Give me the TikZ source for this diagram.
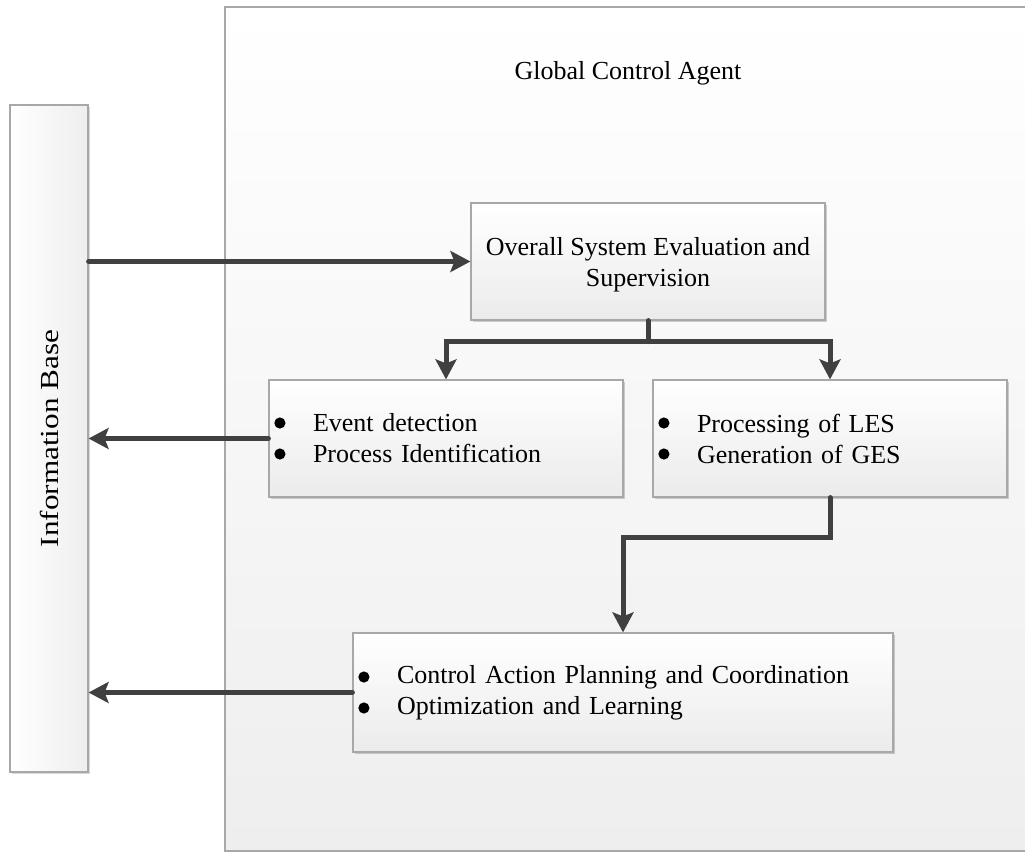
\documentclass[tikz,border=0pt]{standalone}
\usepackage{fontspec}
\setmainfont{Liberation Serif}
\usetikzlibrary{arrows.meta,shadows,calc}

\definecolor{edgegray}{HTML}{A8A8A8}
\definecolor{arrowgray}{HTML}{404040}
\definecolor{fillbottom}{HTML}{EBEBEB}
\definecolor{framebottom}{HTML}{EEEEEE}

\tikzset{
  txt/.style={font=\fontsize{26}{31}\selectfont},
  panel/.style={draw=edgegray, line width=1.2pt, top color=white, bottom color=fillbottom,
    drop shadow={shadow xshift=2pt, shadow yshift=-2pt, fill=black, opacity=0.18},
    txt, inner xsep=6pt, inner ysep=0pt},
  flow/.style={draw=arrowgray, line width=5pt, line cap=round,
    -{Stealth[length=20pt, width=21pt, inset=4pt]}},
  trunk/.style={draw=arrowgray, line width=5pt, line cap=round},
  dot/.style={fill=black},
}

% list item: indent for the bullet drawn beside it
\newcommand{\itm}[1]{\hspace*{38pt}#1}

\begin{document}
\begin{tikzpicture}[x=1pt, y=-1pt]
\useasboundingbox (0,0) rectangle (1025,853);
\clip (0,0) rectangle (1025,853);

% outer frame of the agent
\node[draw=edgegray, line width=1.2pt, top color=white, bottom color=framebottom,
      minimum width=812pt, minimum height=844pt, inner sep=0pt] (gca) at (631,429) {};
\node[txt] (title) at (628,73) {Global Control Agent};

% information base column
\node[draw=edgegray, line width=1.2pt, left color=white, right color=framebottom,
      drop shadow={shadow xshift=2pt, shadow yshift=-2pt, fill=black, opacity=0.15},
      minimum width=78pt, minimum height=667pt, inner sep=0pt] (info) at (49,438.5) {};
\node[font=\fontsize{26}{31}\selectfont, rotate=90] (infolabel) at (info.center)
  {\scalebox{1.2}[1]{Information Base}};

% function blocks
\node[panel, minimum width=354pt, minimum height=117pt] (ose) at (648,261.5) {};
\node[txt, align=center] (oselabel) at ($(ose.center)+(0,3)$)
  {Overall System Evaluation and\\Supervision};
\node[panel, minimum width=354pt, minimum height=117pt, text width=342pt, align=left] (evt) at (446,438.5)
  {\itm{Event detection}\\\itm{Process Identification}};
\node[panel, minimum width=354pt, minimum height=117pt, text width=342pt, align=left] (proc) at (830,438.5)
  {\itm{Processing of LES}\\\itm{Generation of GES}};
\node[panel, minimum width=540pt, minimum height=119pt, text width=528pt, align=left] (cap) at (623,692.5)
  {\itm{Control Action Planning and Coordination}\\\itm{Optimization and Learning}};

% bullets of the lists
\foreach \blk in {evt, proc, cap} {
  \fill[dot] ($(\blk.west)+(11.5,-15.5)$) circle (5.6);
  \fill[dot] ($(\blk.west)+(11.5,15.5)$) circle (5.6);
}

% connectors
\coordinate (split) at ($(ose.south)+(0,21)$);
\draw[flow] (ose.west -| info.east) -- (ose.west);
\draw[trunk] (ose.south) -- (split);
\draw[flow] (split) -| (evt.north);
\draw[flow] (split) -| (proc.north);
\draw[flow] (evt.west) -- (evt.west -| info.east);
\draw[flow] (proc.south) -- ++(0,40) -| (cap.north);
\draw[flow] (cap.west) -- (cap.west -| info.east);
\end{tikzpicture}
\end{document}
